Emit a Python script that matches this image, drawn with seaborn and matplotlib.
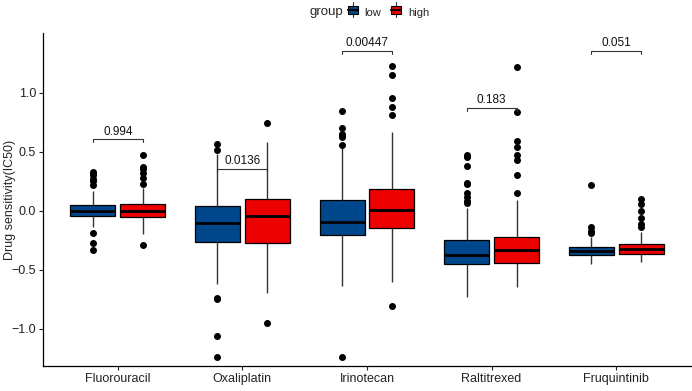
import numpy as np
import pandas as pd
import seaborn as sns
import matplotlib.pyplot as plt
from matplotlib.patches import Rectangle
from matplotlib.lines import Line2D
from matplotlib.legend_handler import HandlerBase

# Data
drugs = ['Fluorouracil', 'Oxaliplatin', 'Irinotecan', 'Raltitrexed', 'Fruquintinib']
groups = ['low', 'high']

low_q1 = [-0.042, -0.263, -0.208, -0.454, -0.373]
low_med = [0.0, -0.10, -0.096, -0.378, -0.342]
low_q3 = [0.046, 0.040, 0.088, -0.251, -0.310]
low_wlo = [-0.136, -0.62, -0.638, -0.734, -0.45]
low_whi = [0.17, 0.48, 0.528, 0.025, -0.22]
low_out = [
    [-0.185, -0.27, -0.33, 0.22, 0.25, 0.27, 0.30, 0.32, 0.33],
    [-0.74, -0.75, -1.06, -1.24, 0.514, 0.565],
    [-1.24, 0.557, 0.622, 0.639, 0.65, 0.703, 0.845],
    [0.063, 0.085, 0.119, 0.147, 0.226, 0.237, 0.38, 0.458, 0.472],
    [-0.192, -0.17, -0.14, 0.22],
]

high_q1 = [-0.050, -0.270, -0.150, -0.440, -0.364]
high_med = [0.0, -0.048, 0.003, -0.336, -0.325]
high_q3 = [0.059, 0.097, 0.180, -0.220, -0.285]
high_wlo = [-0.20, -0.695, -0.60, -0.647, -0.435]
high_whi = [0.19, 0.585, 0.67, 0.088, -0.178]
high_out = [
    [-0.29, 0.23, 0.28, 0.32, 0.35, 0.37, 0.47],
    [-0.95, 0.74],
    [-0.81, 0.81, 0.876, 0.955, 1.147, 1.226],
    [0.15, 0.305, 0.43, 0.475, 0.54, 0.59, 0.84, 1.22],
    [-0.14, -0.113, -0.065, -0.003, 0.06, 0.10],
]

p_values = ['0.994', '0.0136', '0.00447', '0.183', '0.051']
bracket_y = [0.605, 0.356, 1.356, 0.873, 1.356]

palette = {'low': '#00468B', 'high': '#ED0000'}


def box_sample(q1, med, q3, wlo, whi, out, k=40):
    # sample whose quartiles / whiskers / outliers match the read values
    return list(out) + [wlo, whi] + [q1] * k + [med] * k + [q3] * k


rows = []
for i, d in enumerate(drugs):
    for g, q1, md, q3, wl, wh, ot in [
        ('low', low_q1, low_med, low_q3, low_wlo, low_whi, low_out),
        ('high', high_q1, high_med, high_q3, high_wlo, high_whi, high_out),
    ]:
        for v in box_sample(q1[i], md[i], q3[i], wl[i], wh[i], ot[i]):
            rows.append((d, g, v))
df = pd.DataFrame(rows, columns=['drug', 'group', 'value'])


class BoxKey(HandlerBase):
    # little boxplot glyph for the legend, like ggplot's key
    def create_artists(self, legend, orig, xd, yd, width, height, fontsize, trans):
        fc = orig.get_facecolor()
        arts = [
            Line2D([xd + width / 2] * 2, [yd - height * 0.25, yd + height * 1.25],
                   color='#333333', lw=0.8, transform=trans),
            Rectangle((xd, yd + height * 0.1), width, height * 0.8,
                      facecolor=fc, edgecolor='black', lw=0.8, transform=trans),
            Line2D([xd, xd + width], [yd + height / 2] * 2, color='black',
                   lw=1.5, transform=trans),
        ]
        return arts


sns.set_style('white')
plt.rcParams['font.family'] = ['Liberation Sans', 'DejaVu Sans']

fig = plt.figure(figsize=(6.92, 3.91), dpi=100)
ax = fig.add_axes([43 / 692, 1 - 366 / 391, 648 / 692, 333 / 391])

sns.boxplot(data=df, x='drug', y='value', hue='group', order=drugs,
            hue_order=groups, palette=palette, saturation=1, width=0.8,
            gap=0.1, linecolor='black', linewidth=0.9, legend=False, ax=ax,
            whiskerprops=dict(color='#333333', linewidth=1.0),
            capprops=dict(linewidth=0),
            medianprops=dict(color='black', linewidth=2),
            flierprops=dict(marker='o', markersize=4, markerfacecolor='black',
                            markeredgecolor='black'))

# p-value brackets
for i, (p, y) in enumerate(zip(p_values, bracket_y)):
    x0, x1 = i - 0.2, i + 0.2
    ax.plot([x0, x0, x1, x1], [y - 0.025, y, y, y - 0.025],
            color='#333333', lw=0.8)
    ax.text(i, y + 0.015, p, ha='center', va='bottom', fontsize=8.5,
            color='#111111')

ax.set_xlim(-0.6, 4.6)
ax.set_ylim(-1.316, 1.506)
ax.set_yticks([-1.0, -0.5, 0.0, 0.5, 1.0])
ax.set_yticklabels(['\u22121.0', '\u22120.5', '0.0', '0.5', '1.0'])
ax.set_xlabel('')
ax.set_ylabel('Drug sensitivity(IC50)', fontsize=9)
ax.yaxis.set_label_coords(-0.042, 0.5)
ax.tick_params(axis='both', labelsize=9, colors='#222222', length=3,
               width=0.8, direction='out', bottom=True, left=True, pad=2)
for s in ['top', 'right']:
    ax.spines[s].set_visible(False)
for s in ['left', 'bottom']:
    ax.spines[s].set_color('black')
    ax.spines[s].set_linewidth(0.9)

# legend on top
handles = [Rectangle((0, 0), 1, 1, facecolor=palette[g]) for g in groups]
fig.text(310 / 692, 1 - 12.5 / 391, 'group', va='center', ha='left',
         fontsize=9.5)
fig.legend(handles, groups, loc='center left',
           bbox_to_anchor=(348 / 692, 1 - 12.5 / 391), ncol=2,
           frameon=False, handlelength=0.9, handleheight=1.0,
           handletextpad=0.6, columnspacing=0.9, fontsize=8,
           borderaxespad=0, borderpad=0,
           handler_map={Rectangle: BoxKey()})

fig.savefig('out.png', dpi=100)
